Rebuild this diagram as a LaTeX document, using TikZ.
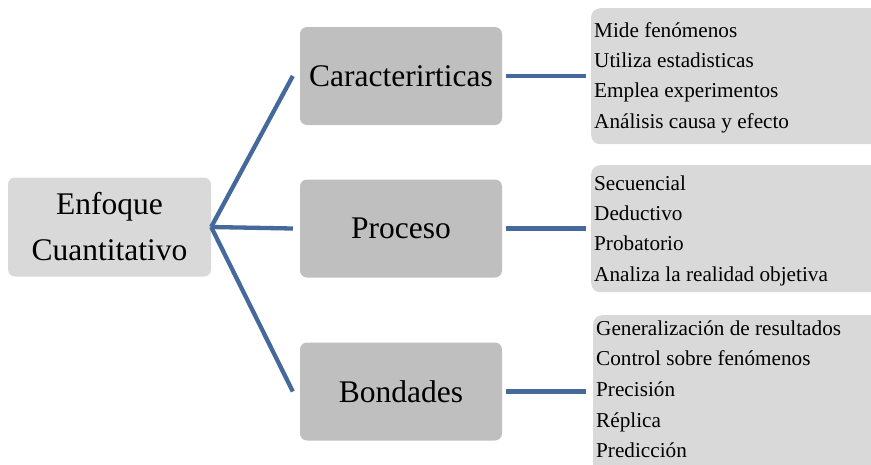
\documentclass[tikz,border=0pt]{standalone}
\usepackage{fontspec}
\setmainfont{Liberation Serif}
\definecolor{rootfill}{HTML}{D9D9D9}
\definecolor{topicfill}{HTML}{BFBFBF}
\definecolor{listfill}{HTML}{D9D9D9}
\definecolor{linkblue}{HTML}{45699A}
\begin{document}
\begin{tikzpicture}[x=1pt,y=-1pt,
  rootbox/.style={fill=rootfill, rounded corners=7pt, minimum width=203pt,
    minimum height=99pt, inner sep=0pt, align=center,
    font=\fontsize{31.5}{46}\selectfont},
  topicbox/.style={fill=topicfill, rounded corners=7pt, minimum width=202pt,
    minimum height=98pt, inner sep=0pt, font=\fontsize{31.5}{38}\selectfont},
  listbox/.style={fill=listfill, rounded corners=9pt, anchor=north west,
    minimum width=320pt, inner sep=0pt},
  listtext/.style={anchor=base west, inner sep=0pt,
    font=\fontsize{21.2}{25}\selectfont},
  link/.style={draw=linkblue, line width=4.3pt}
]
\useasboundingbox (0,0) rectangle (871,464);
\begin{scope}
\clip (0,0) rectangle (871,464);

% root and the three topics
\node[rootbox] (root) at (109.5,227) {Enfoque\\Cuantitativo};
\node[topicbox] (car) at (401,76) {Caracterirticas};
\node[topicbox] (pro) at (401,228.5) {Proceso};
\node[topicbox] (bon) at (401,391.5) {Bondades};

% detail panels (running off the right edge)
\node[listbox, minimum height=136pt] (list1) at (591,8) {};
\node[listbox, minimum height=127pt] (list2) at (591,165) {};
\node[listbox, minimum height=170pt] (list3) at (593,315) {};

% detail lines
\foreach \t [count=\i] in {Mide fenómenos, Utiliza estadisticas,
    Emplea experimentos, Análisis causa y efecto}
  \node[listtext] (c\i) at (594,{37+30.4*(\i-1)}) {\t};
\foreach \t [count=\i] in {Secuencial, Deductivo, Probatorio,
    Analiza la realidad objetiva}
  \node[listtext] (p\i) at (594,{190+30.4*(\i-1)}) {\t};
\foreach \t [count=\i] in {Generalización de resultados, Control sobre fenómenos,
    Precisión, Réplica, Predicción}
  \node[listtext] (b\i) at (596,{335+30.7*(\i-1)}) {\t};

% connectors from the root to the topics
\draw[link] (root.east) -- ([xshift=-7pt]car.west);
\draw[link] (root.east) -- ([xshift=-7pt]pro.west);
\draw[link] (root.east) -- ([xshift=-7pt]bon.west);

% connectors from the topics to their panels
\draw[link] ([xshift=4pt]car.east) -- ([xshift=-5pt]car.east -| list1.west);
\draw[link] ([xshift=4pt]pro.east) -- ([xshift=-5pt]pro.east -| list2.west);
\draw[link] ([xshift=4pt]bon.east) -- ([xshift=-7pt]bon.east -| list3.west);
\end{scope}
\end{tikzpicture}
\end{document}
